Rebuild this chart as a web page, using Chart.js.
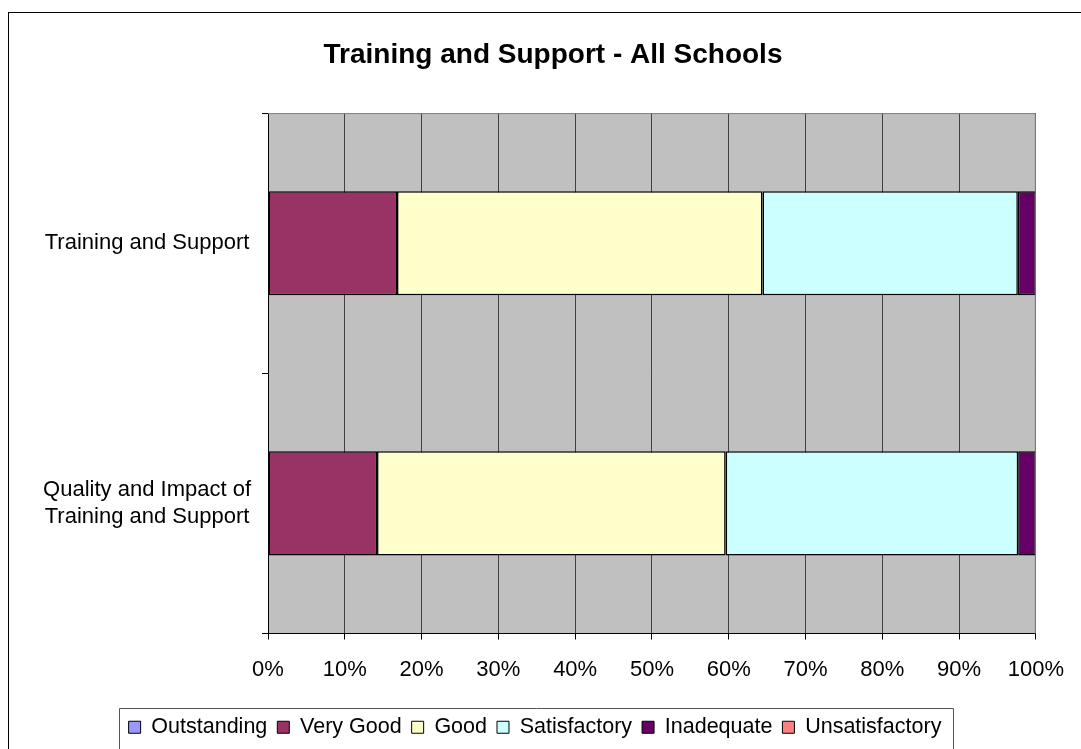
<!DOCTYPE html>
<html>
<head>
<meta charset="utf-8">
<script src="https://cdn.jsdelivr.net/npm/chart.js@4/dist/chart.umd.min.js"></script>
<style>
  html, body { margin: 0; padding: 0; background: #fff; }
  #wrap { width: 1081px; height: 749px; }
</style>
</head>
<body>
<div id="wrap"><canvas id="myChart" width="1081" height="749"></canvas></div>
<script>
// categories (top to bottom)
var categories = ['Training and Support', ['Quality and Impact of', 'Training and Support']];

// series values, percent of responses
var outstanding    = [0, 0];
var veryGood       = [16.8, 14.2];
var good           = [47.6, 45.4];
var satisfactory   = [33.25, 38.1];
var inadequate     = [2.35, 2.3];
var unsatisfactory = [0, 0];

// x axis ticks
var tickValues = [0, 10, 20, 30, 40, 50, 60, 70, 80, 90, 100];

var FONT = 'Liberation Sans, Arial, sans-serif';

// grey plot area, outer frame and legend frame
var excelLook = {
    id: 'excelLook',
    afterLayout: function(chart) {
        // title sits a bit right of the legend in the original
        chart.titleBlock.left += 18;
        chart.titleBlock.right += 18;
    },
    beforeDraw: function(chart) {
        var c = chart.ctx, a = chart.chartArea;
        c.save();
        c.fillStyle = '#fff';
        c.fillRect(0, 0, chart.width, chart.height);
        c.fillStyle = '#C0C0C0';
        c.fillRect(a.left, a.top, a.right - a.left, a.bottom - a.top);
        c.restore();
    },
    afterDraw: function(chart) {
        var c = chart.ctx, a = chart.chartArea;
        c.save();
        // plot area top/right border
        c.strokeStyle = '#808080';
        c.lineWidth = 1;
        c.beginPath();
        c.moveTo(a.left, a.top + 0.5);
        c.lineTo(a.right - 0.5, a.top + 0.5);
        c.lineTo(a.right - 0.5, a.bottom);
        c.stroke();
        // outer frame
        c.strokeStyle = '#000';
        c.strokeRect(8.5, 12.5, 1100, 800);
        // legend frame
        var boxes = chart.legend.legendHitBoxes;
        if (boxes && boxes.length) {
            var first = boxes[0], last = boxes[boxes.length - 1];
            var x0 = Math.round(first.left) - 9.5;
            var x1 = Math.round(last.left + last.width) + 12.5;
            var y0 = Math.round(first.top) - 8.5;
            c.strokeStyle = '#555';
            c.beginPath();
            c.moveTo(x0, 760);
            c.lineTo(x0, y0);
            c.lineTo(x1, y0);
            c.lineTo(x1, 760);
            c.stroke();
        }
        c.restore();
    }
};

function series(label, data, color) {
    return {
        label: label,
        data: data,
        backgroundColor: color,
        borderColor: '#000',
        borderWidth: 1.5,
        borderSkipped: false,
        categoryPercentage: 1,
        barPercentage: 0.4
    };
}

var ctx = document.getElementById('myChart').getContext('2d');
var chart = new Chart(ctx, {
    type: 'bar',
    data: {
        labels: categories,
        datasets: [
            series('Outstanding', outstanding, '#9999FF'),
            series('Very Good', veryGood, '#993366'),
            series('Good', good, '#FFFFCC'),
            series('Satisfactory', satisfactory, '#CCFFFF'),
            series('Inadequate', inadequate, '#660066'),
            series('Unsatisfactory', unsatisfactory, '#FF8080')
        ]
    },
    options: {
        indexAxis: 'y',
        responsive: false,
        animation: false,
        layout: { padding: { left: 34, right: 45, top: 0, bottom: 1 } },
        plugins: {
            title: {
                display: true,
                text: 'Training and Support - All Schools',
                color: '#000',
                font: { family: FONT, size: 28, weight: 'bold' },
                padding: { top: 38, bottom: 41.5 }
            },
            legend: {
                position: 'bottom',
                labels: {
                    color: '#000',
                    font: { family: FONT, size: 21.5 },
                    boxWidth: 12,
                    boxHeight: 12,
                    padding: 10,
                    generateLabels: function(chart) {
                        return chart.data.datasets.map(function(ds, i) {
                            return {
                                text: ds.label,
                                fillStyle: ds.backgroundColor,
                                strokeStyle: '#000',
                                lineWidth: 1,
                                fontColor: '#000',
                                datasetIndex: i
                            };
                        });
                    }
                }
            },
            tooltip: { enabled: false }
        },
        scales: {
            x: {
                stacked: true,
                min: 0,
                max: 100,
                afterBuildTicks: function(scale) {
                    scale.ticks = tickValues.map(function(v) { return { value: v }; });
                },
                afterFit: function(scale) { scale.height = 73; },
                ticks: {
                    color: '#000',
                    font: { family: FONT, size: 22 },
                    padding: 17,
                    maxRotation: 0,
                    callback: function(v) { return v + '%'; }
                },
                grid: {
                    color: '#404040',
                    tickColor: '#000',
                    tickLength: 6,
                    lineWidth: 1
                },
                border: { color: '#000', width: 1 }
            },
            y: {
                stacked: true,
                offset: true,
                afterFit: function(scale) { scale.width = 234; },
                ticks: {
                    color: '#000',
                    font: { family: FONT, size: 22, lineHeight: 1.2 },
                    padding: 11,
                    crossAlign: 'center'
                },
                grid: {
                    offset: true,
                    drawOnChartArea: false,
                    tickColor: '#000',
                    tickLength: 6
                },
                border: { color: '#000', width: 1 }
            }
        }
    },
    plugins: [excelLook]
});
</script>
</body>
</html>
